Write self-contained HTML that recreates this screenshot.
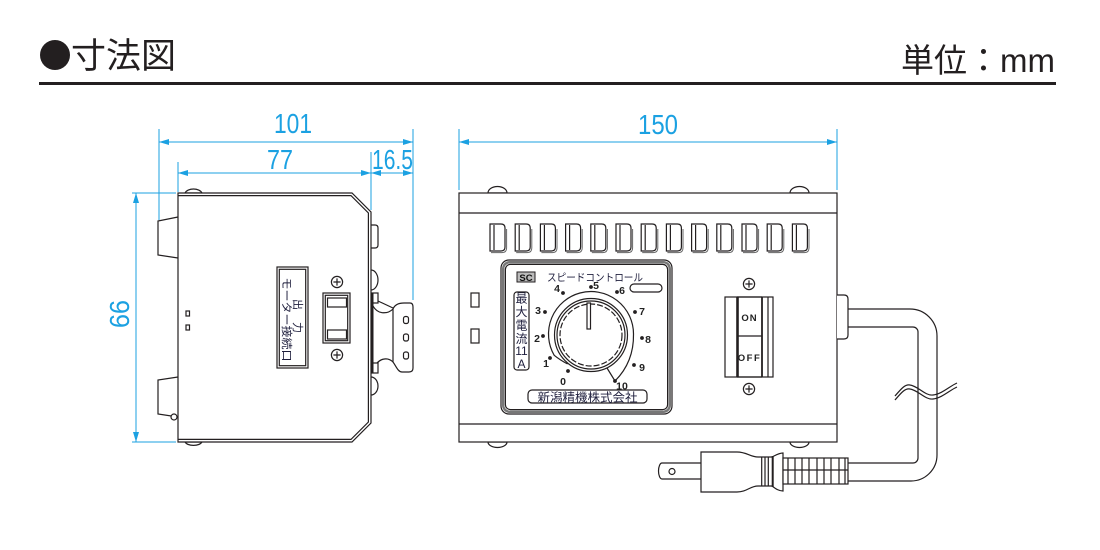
<!DOCTYPE html>
<html><head><meta charset="utf-8"><style>
html,body{margin:0;padding:0;background:#fff;}
svg{display:block;}
text{font-family:"Liberation Sans","Noto Sans CJK JP",sans-serif;}
.k{fill:none;stroke:#231f20;stroke-width:1.2;}
.kw{fill:#fff;stroke:#231f20;stroke-width:1.2;}
.b{fill:none;stroke:#1ba1e2;stroke-width:1;}
.bf{fill:#1ba1e2;}
.dim{fill:#1ba1e2;font-size:28px;}
.n{font-size:10.5px;fill:#222;text-anchor:middle;font-weight:bold;}
</style></head><body>
<svg xmlns="http://www.w3.org/2000/svg" width="1100" height="550" viewBox="0 0 1100 550">
<defs>
<g id="slot">
<path d="M0,224 L11,224 Q15,224 15,228 L15,247 Q15,251 11,251 L0,251 Z" class="k" stroke-width="1"/>
<path d="M4,225 L4,250" class="k" stroke-width="0.9"/>
<path d="M16.6,229 L16.6,248 Q16.6,252.6 12,252.6 L1,252.6" fill="none" stroke="#666" stroke-width="1"/>
</g>
<g id="screw">
<circle cx="0" cy="0" r="5.6" class="kw" stroke-width="1"/>
<path d="M-3.6,0 L3.6,0 M0,-3.6 L0,3.6" class="k" stroke-width="1"/>
</g>
</defs>

<!-- Header -->
<circle cx="55" cy="55" r="15" fill="#231f20"/>
<text x="71" y="68" font-size="35" fill="#231f20" font-family="'Noto Sans CJK JP',sans-serif">寸法図</text>
<text x="1055" y="72" font-size="33" fill="#231f20" text-anchor="end">単位：mm</text>
<rect x="39" y="82" width="1017" height="3" fill="#231f20"/>

<!-- ===== LEFT VIEW dimensions ===== -->
<path class="b" d="M159,129 L159,220 M413,129 L413,300 M178,162 L178,192 M371,152 L371,210"/>
<path class="b" d="M159,142 L413,142 M178,173 L371,173 M371,173 L413,173"/>
<path class="bf" d="M159,142 L169,139 L169,145 Z M413,142 L403,139 L403,145 Z"/>
<path class="bf" d="M178,173 L188,170 L188,176 Z M371,173 L361,170 L361,176 Z"/>
<path class="bf" d="M371,173 L381,170 L381,176 Z M413,173 L403,170 L403,176 Z"/>
<path class="b" d="M132,193 L176,193 M132,442 L176,442 M136,193 L136,442"/>
<path class="bf" d="M136,193 L133,203 L139,203 Z M136,442 L133,432 L139,432 Z"/>
<text class="dim" x="293" y="133" text-anchor="middle" textLength="38" lengthAdjust="spacingAndGlyphs">101</text>
<text class="dim" x="280" y="169" text-anchor="middle" textLength="26" lengthAdjust="spacingAndGlyphs">77</text>
<text class="dim" x="392.5" y="169" text-anchor="middle" textLength="41" lengthAdjust="spacingAndGlyphs">16.5</text>
<text class="dim" transform="translate(120,314) rotate(90)" x="0" y="10" text-anchor="middle" textLength="28" lengthAdjust="spacingAndGlyphs">99</text>

<!-- ===== LEFT VIEW body ===== -->
<path class="kw" d="M185,193 A9,6 0 0 1 202,193 Z"/>
<path class="kw" d="M185,442 A9,5 0 0 0 202,442 Z"/>
<path class="kw" d="M178,217 L158,221 L158,255 L178,258"/>
<path class="kw" d="M178,377 L158,380 L158,414 L178,417"/>
<circle cx="174" cy="417" r="3" class="kw" stroke-width="1"/>
<path class="kw" d="M371,225 L375,225 Q378,225 378,228 L378,245 Q378,248 375,248 L371,248"/>
<path class="kw" d="M371,270 A7,10 0 0 1 371,290"/>
<path class="kw" d="M371,377 A7,9 0 0 1 371,395"/>
<path class="kw" d="M393,309 C395,304 400,303 404,303 L410,303 Q413,303 413,307 L413,368 Q413,372 409,372 L402,372 C398,372 396,366 393,362 Z"/>
<path class="k" d="M373,306 C378,315 388,314 393,309 M378,301 L393,308 M373,370 C378,357 388,357 393,362"/>
<rect x="403.5" y="316.5" width="5" height="7" rx="2" class="kw" stroke-width="1"/>
<rect x="403.5" y="334" width="5" height="7" rx="2" class="kw" stroke-width="1"/>
<rect x="403.5" y="352" width="5" height="7" rx="2" class="kw" stroke-width="1"/>
<rect x="372" y="293" width="6" height="10" class="kw" stroke-width="1"/>
<rect x="372" y="363" width="6" height="10" class="kw" stroke-width="1"/>
<path class="kw" d="M178,193 L352,193 L371,212 L371,423 L352,442 L178,442 Z"/>
<path class="k" stroke-width="1" d="M178,195.6 L351,195.6 L368.4,213 L368.4,422 L351,439.4 L178,439.4"/>
<path d="M372.5,293 L372.5,373" stroke="#231f20" stroke-width="2" fill="none"/>
<rect x="186" y="311" width="3.5" height="5" class="kw" stroke-width="1"/>
<rect x="186" y="325" width="3.5" height="5" class="kw" stroke-width="1"/>
<rect x="277" y="267" width="31" height="101" class="kw"/>
<rect x="279.3" y="269.3" width="26.4" height="96.4" class="k" stroke-width="1"/>
<g transform="translate(292.5,317.5) rotate(90)" fill="#1e1e3c" font-family="'Noto Sans CJK JP',sans-serif">
<text x="-13" y="-1.5" font-size="11" text-anchor="middle">出</text>
<text x="10" y="-1.5" font-size="11" text-anchor="middle">力</text>
<text x="2" y="9.5" font-size="11" text-anchor="middle" textLength="84" lengthAdjust="spacingAndGlyphs">モーター接続口</text>
</g>
<rect x="323" y="293" width="27" height="50" class="kw"/>
<rect x="325.3" y="295.3" width="22.4" height="45.4" class="k" stroke-width="1"/>
<rect x="327.5" y="298" width="19" height="9" class="kw" stroke-width="1.3"/>
<rect x="327.5" y="330" width="19" height="9" class="kw" stroke-width="1.3"/>
<use href="#screw" x="337" y="282"/>
<use href="#screw" x="337" y="355"/>

<!-- ===== RIGHT VIEW dimensions ===== -->
<path class="b" d="M459,129 L459,190 M837,129 L837,190 M459,142 L837,142"/>
<path class="bf" d="M459,142 L469,139 L469,145 Z M837,142 L827,139 L827,145 Z"/>
<text class="dim" x="658" y="134" text-anchor="middle" textLength="40" lengthAdjust="spacingAndGlyphs">150</text>

<!-- ===== RIGHT VIEW body ===== -->
<path class="kw" d="M488,193 A9.5,6.5 0 0 1 507,193 Z"/>
<path class="kw" d="M790,193 A9.5,6.5 0 0 1 809,193 Z"/>
<path class="kw" d="M488,442 A9.5,5.5 0 0 0 507,442 Z"/>
<path class="kw" d="M790,442 A9.5,5.5 0 0 0 809,442 Z"/>
<rect x="459" y="193" width="378" height="249" class="kw"/>
<path class="k" d="M459,213 L837,213 M459,424 L837,424"/>
<use href="#slot" x="490"/>
<use href="#slot" x="515.2"/>
<use href="#slot" x="540.4"/>
<use href="#slot" x="565.6"/>
<use href="#slot" x="590.8"/>
<use href="#slot" x="616"/>
<use href="#slot" x="641.2"/>
<use href="#slot" x="666.4"/>
<use href="#slot" x="691.6"/>
<use href="#slot" x="716.8"/>
<use href="#slot" x="742"/>
<use href="#slot" x="767.2"/>
<use href="#slot" x="792.4"/>
<rect x="471" y="293" width="8" height="14" class="kw" stroke-width="1"/>
<rect x="471" y="329" width="8" height="14" class="kw" stroke-width="1"/>

<!-- dial panel -->
<rect x="501" y="260" width="171" height="154" rx="8" class="kw" stroke-width="1.3"/>
<rect x="503.2" y="262.2" width="166.6" height="149.6" rx="6.5" fill="none" stroke="#777" stroke-width="2.4"/>
<rect x="505.4" y="264.4" width="162.2" height="145.2" rx="5" class="k" stroke-width="1.2"/>
<rect x="517" y="272" width="18" height="10" fill="#bbb" stroke="#231f20" stroke-width="1"/>
<text x="526" y="281" font-size="9.5" font-weight="bold" text-anchor="middle" fill="#111">SC</text>
<text x="547" y="281" font-size="10.5" fill="#1e1e3c" textLength="96" lengthAdjust="spacingAndGlyphs">スピードコントロール</text>
<rect x="630" y="284" width="32" height="8" rx="4" class="kw" stroke-width="1"/>
<rect x="514" y="292" width="15" height="78" rx="3" class="kw" stroke-width="1"/>
<g font-size="12" fill="#1e1e3c" text-anchor="middle">
<text x="521.5" y="302.5">最</text>
<text x="521.5" y="316">大</text>
<text x="521.5" y="329.5">電</text>
<text x="521.5" y="343">流</text>
<text x="521.5" y="355">11</text>
<text x="521.5" y="368">A</text>
</g>
<path class="k" stroke-width="1" d="M567.6,364 Q560,360 554.2,355.3 A42.5,42.5 0 1 1 633.5,334 Q634,362 615,381 L607,368"/>
<circle cx="591" cy="335" r="36.5" class="kw" stroke-width="1.3"/>
<circle cx="591" cy="335" r="34" class="k" stroke-width="1"/>
<circle cx="591" cy="335" r="31" class="k" stroke-width="1" stroke-dasharray="6 2"/>
<rect x="587" y="303" width="3.5" height="26" class="kw" stroke-width="1"/>
<g fill="#231f20">
<circle cx="568" cy="371" r="1.9"/><circle cx="550" cy="358" r="1.9"/><circle cx="543" cy="336" r="1.9"/>
<circle cx="545" cy="312" r="1.9"/><circle cx="563" cy="293" r="1.9"/><circle cx="591" cy="287" r="1.9"/>
<circle cx="617" cy="292" r="1.9"/><circle cx="635" cy="312" r="1.9"/><circle cx="642" cy="338" r="1.9"/>
<circle cx="634" cy="365" r="1.9"/><circle cx="615" cy="381" r="1.9"/>
</g>
<text class="n" x="563" y="385">0</text>
<text class="n" x="546" y="367">1</text>
<text class="n" x="537" y="342">2</text>
<text class="n" x="538" y="314">3</text>
<text class="n" x="557" y="292">4</text>
<text class="n" x="596" y="289">5</text>
<text class="n" x="622" y="294">6</text>
<text class="n" x="642" y="315">7</text>
<text class="n" x="648" y="343">8</text>
<text class="n" x="642" y="371">9</text>
<text class="n" x="622" y="389.5">10</text>
<rect x="528" y="390" width="119" height="13" rx="4" class="kw" stroke-width="1"/>
<text x="587.5" y="401.5" font-size="12" fill="#1e1e3c" text-anchor="middle" textLength="100" lengthAdjust="spacingAndGlyphs">新潟精機株式会社</text>

<!-- switch -->
<use href="#screw" x="749" y="284"/>
<use href="#screw" x="749" y="389"/>
<rect x="725" y="297" width="48" height="80" class="kw" stroke-width="1"/>
<path class="k" stroke-width="1" d="M768,297 L768,377 M737,336 L762,336 M737,297 L762,297 M737,377 L762,377"/>
<path d="M737.5,297 L737.5,377" stroke="#231f20" stroke-width="2.6"/>
<path d="M762,297 L762,377" stroke="#231f20" stroke-width="1.8"/>
<text x="749.5" y="321" font-size="9.5" font-weight="bold" fill="#222" text-anchor="middle" letter-spacing="1">ON</text>
<text x="749.5" y="361" font-size="9.5" font-weight="bold" fill="#222" text-anchor="middle" letter-spacing="1.5">OFF</text>

<!-- cord -->
<path class="kw" d="M837,295 L844,295 Q848,295 848,299 L848,335 Q848,339 844,339 L837,339"/>
<path class="k" d="M848,309 L910,309 A27,27 0 0 1 937,336 L937,455 A26,26 0 0 1 911,481 L848,481"/>
<path class="k" d="M848,327 L913,327 A5,5 0 0 1 918,332 L918,458 A5,5 0 0 1 913,463 L848,463"/>
<path class="k" stroke-width="1" d="M895,396 C901,389 905,384 910,385 C918,386 925,396 933,395 C942,394 950,386 957,383"/>
<path class="k" stroke-width="1" d="M895,400 C901,393 905,388 910,389 C918,390 925,400 933,399 C942,398 950,390 957,387"/>

<!-- plug -->
<path class="kw" d="M701,463 L662,463 A3.5,8 0 0 0 662,479 L701,479"/>
<circle cx="672" cy="471.5" r="3" class="kw" stroke-width="1"/>
<path class="kw" d="M701,452 L737,452 C747,452 750,457 758,457 L772,457 C776,455 779,453 783,453 L783,491 C779,491 776,489 772,486 L758,486 C750,486 747,492 737,492 L701,492 Z"/>
<path class="k" stroke-width="1" d="M761.7,457 L761.7,486 M765,457 L765,486 M768.3,457 L768.3,486"/>
<path d="M772.7,456 L772.7,487" stroke="#231f20" stroke-width="2"/>
<rect x="783" y="458" width="65" height="26" class="kw"/>
<path class="k" stroke-width="1" d="M783,470 L848,470 M788,458 L788,484 M795,458 L795,484 M802,458 L802,484 M809,458 L809,484 M817,458 L817,484 M824,458 L824,484 M831,458 L831,484 M839,458 L839,484 M845,458 L845,484"/>
</svg>
</body></html>
